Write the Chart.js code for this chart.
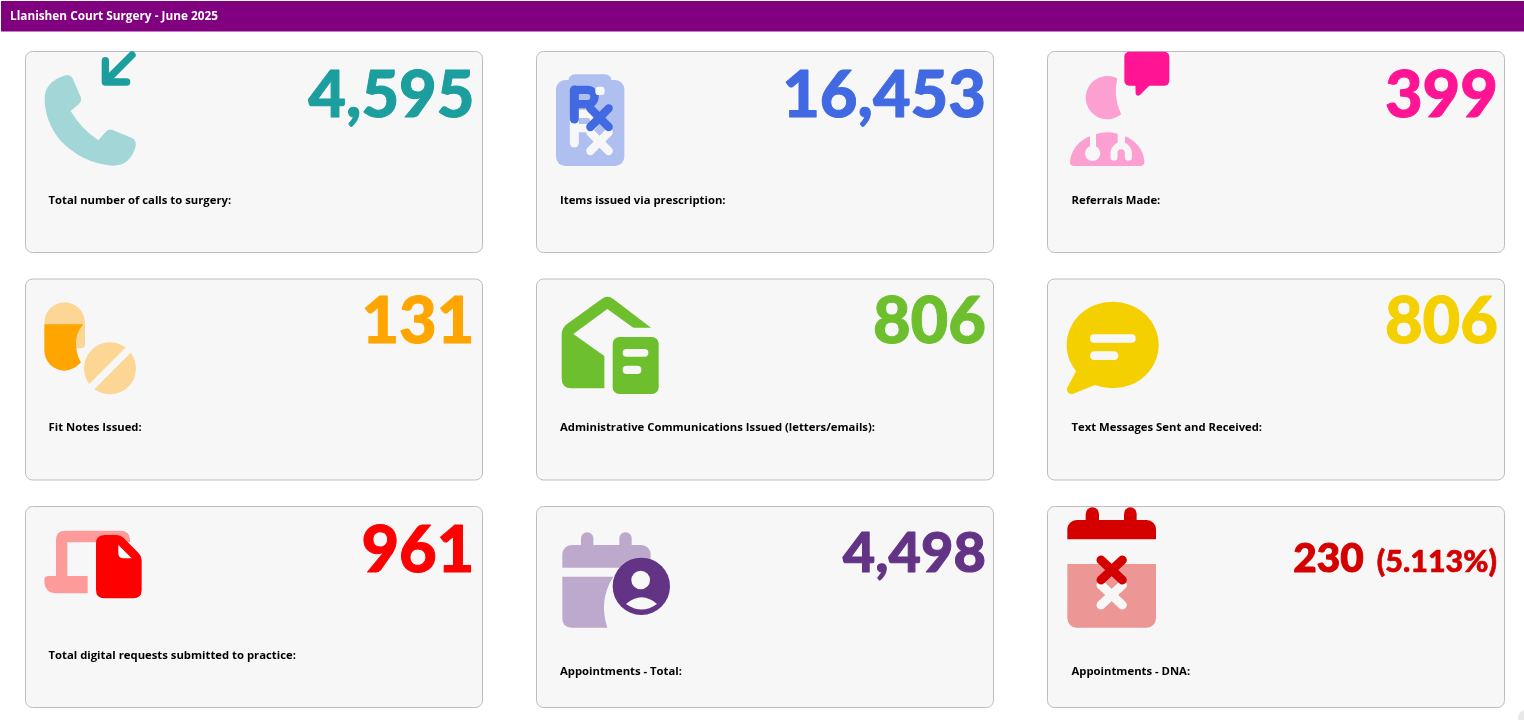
<!DOCTYPE html>
<html><head><meta charset="utf-8">
<script src="https://cdn.jsdelivr.net/npm/chart.js@4"></script>
<style>html,body{margin:0;padding:0;background:#fff;overflow:hidden}canvas{display:block}</style>
</head><body><canvas id="c" width="1524" height="720"></canvas>
<script>
const pageTitle = "Llanishen Court Surgery - June 2025";
const kpiLabels = ["Total number of calls to surgery:","Items issued via prescription:","Referrals Made:","Fit Notes Issued:","Administrative Communications Issued (letters/emails):","Text Messages Sent and Received:","Total digital requests submitted to practice:","Appointments - Total:","Appointments - DNA:"];
const kpiValues = [4595,16453,399,131,806,806,961,4498,230];
const kpiNotes = ["","","","","","","","","(5.113%)"];
const kpiColours = ["#1c9e9e","#4169e1","#ff1493","#ffa500","#6dbf2d","#f5d000","#ff0000","#633386","#d40000"];
const kpiFontSizes = [65,65,65,65,65,65,65,56,40.5];
const cardBg = "#f7f7f7";

function rr(c,x,y,w,h,r){c.beginPath();c.roundRect(x,y,w,h,r);c.fill();}
function line(c,pts,w,col){c.save();c.strokeStyle=col;c.lineWidth=w;c.lineCap="round";c.lineJoin="round";c.beginPath();pts.forEach((p,i)=>i?c.lineTo(p[0],p[1]):c.moveTo(p[0],p[1]));c.stroke();c.restore();}

const icons = [
 function(c){ // phone + arrow
  c.fillStyle="#a3d6d6";c.beginPath();
  c.moveTo(192,227);c.quadraticCurveTo(206,221,216,232);c.lineTo(242,290);c.quadraticCurveTo(246,303,236,313);c.lineTo(212,333);
  c.quadraticCurveTo(245,388,295,421);c.lineTo(315,398);c.quadraticCurveTo(325,385,338,390);c.lineTo(396,414);c.quadraticCurveTo(410,422,407,438);
  c.quadraticCurveTo(392,497,338,497);c.quadraticCurveTo(245,490,180,420);c.quadraticCurveTo(132,360,134,290);c.quadraticCurveTo(138,245,192,227);c.fill();
  line(c,[[316,182],[316,246],[380,246]],22,"#1c9e9e");line(c,[[396,165],[320,241]],22,"#1c9e9e");
 },
 function(c){ // Rx clipboard
  c.fillStyle="#aebff0";rr(c,78,105,205,258,28);rr(c,115,88,130,40,20);
  const rx=(dy,col)=>{line(c,[[133,222+dy],[133,135+dy]],27,col);
   c.save();c.strokeStyle=col;c.lineWidth=25;c.lineJoin="round";c.lineCap="butt";c.beginPath();c.moveTo(133,134.5+dy);c.lineTo(172,134.5+dy);c.arc(172,156+dy,21.5,-Math.PI/2,Math.PI/2);c.lineTo(133,177.5+dy);c.stroke();c.restore();
   line(c,[[181,190+dy],[236,246+dy]],25,col);line(c,[[236,190+dy],[181,246+dy]],25,col);};
  rx(72,cardBg);rx(0,"#4169e1");
  c.fillStyle=cardBg;rr(c,196,125,28,25,10);
 },
 function(c){ // doctor + bubble
  c.fillStyle="#fba0d0";c.beginPath();c.arc(202,158,65,-62.6*Math.PI/180,50.4*Math.PI/180,true);c.quadraticCurveTo(218,155,232,100);c.fill();
  c.beginPath();c.moveTo(90,350);c.bezierCurveTo(95,300,140,265,202,262);c.bezierCurveTo(265,265,310,300,313,350);c.quadraticCurveTo(313,363,300,363);c.lineTo(103,363);c.quadraticCurveTo(90,363,90,350);c.fill();
  line(c,[[159,250],[159,325]],18,cardBg);c.fillStyle=cardBg;c.beginPath();c.arc(158,325,23,0,7);c.fill();
  c.fillRect(233,250,22,55);
  c.save();c.strokeStyle=cardBg;c.lineWidth=21;c.lineCap="round";c.beginPath();c.moveTo(222,337);c.lineTo(222,324);c.arc(243.5,324,21.5,Math.PI,0);c.lineTo(265,337);c.stroke();c.restore();
  c.fillStyle="#ff1493";rr(c,253,20,135,102,15);c.beginPath();c.moveTo(286,115);c.lineTo(287,146);c.quadraticCurveTo(291,156,300,150);c.lineTo(335,115);c.fill();
 },
 function(c){ // pills
  c.fillStyle="#fbd694";c.beginPath();c.moveTo(73,150);c.lineTo(73,143);c.arc(134,143,61,Math.PI,0);c.lineTo(195,208);c.quadraticCurveTo(195,220,182,220);c.lineTo(165,220);c.lineTo(165,150);c.fill();
  c.fillStyle="#ffa500";c.beginPath();c.moveTo(73,148);c.lineTo(190,148);c.quadraticCurveTo(165,175,168,212);c.quadraticCurveTo(171,243,183,262);c.quadraticCurveTo(160,287,134,287);c.arc(134,226,61,Math.PI/2,Math.PI);c.closePath();c.fill();
  c.fillStyle="#fbd694";c.beginPath();c.arc(270,280,78,0,7);c.fill();
  line(c,[[360,190],[180,370]],22,cardBg);
 },
 function(c){ // house + doc
  c.fillStyle="#6dbf2d";c.beginPath();c.moveTo(215,72);c.quadraticCurveTo(232,58,250,72);c.lineTo(363,158);c.lineTo(310,158);c.lineTo(232,102);c.lineTo(130,177);c.lineTo(223,243);c.lineTo(223,340);c.lineTo(125,340);c.quadraticCurveTo(95,340,95,310);c.lineTo(95,180);c.quadraticCurveTo(95,160,110,148);c.closePath();c.fill();
  rr(c,248,186,138,171,20);c.fillStyle=cardBg;rr(c,278,222,77,23,11);rr(c,278,272,56,25,12);
 },
 function(c){ // chat
  c.fillStyle="#f5d000";c.beginPath();c.ellipse(218,210,138,130,0,0,7);c.fill();
  c.beginPath();c.moveTo(110,285);c.lineTo(81,340);c.quadraticCurveTo(80,360,100,356);c.lineTo(170,328);c.fill();
  c.fillStyle=cardBg;rr(c,150,178,137,25,12);rr(c,150,229,85,26,13);
 },
 function(c){ // laptop + doc
  c.fillStyle="#fd9b9b";c.beginPath();c.moveTo(108,228);c.lineTo(108,120);c.quadraticCurveTo(108,92,136,92);c.lineTo(300,92);c.quadraticCurveTo(330,92,330,120);c.lineTo(330,127);c.lineTo(142,127);c.lineTo(142,228);c.lineTo(203,228);c.lineTo(203,280);c.lineTo(110,280);c.quadraticCurveTo(73,280,73,240);c.quadraticCurveTo(73,228,85,228);c.closePath();c.fill();
  c.fillStyle="#ff0000";c.beginPath();c.moveTo(256,105);c.lineTo(290,105);c.quadraticCurveTo(302,105,310,113);c.lineTo(355,158);c.quadraticCurveTo(365,168,365,180);c.lineTo(365,270);c.quadraticCurveTo(365,295,340,295);c.lineTo(253,295);c.quadraticCurveTo(228,295,228,270);c.lineTo(228,130);c.quadraticCurveTo(228,105,256,105);c.fill();
  c.fillStyle="#ffffff";c.beginPath();c.moveTo(295,135);c.lineTo(335,175);c.lineTo(310,175);c.quadraticCurveTo(295,175,295,160);c.fill();
 },
 function(c){ // calendar + person
  c.fillStyle="#bda9cc";rr(c,153,97,37,60,18);rr(c,268,97,37,60,18);
  c.beginPath();c.roundRect(97,135,265,68,[28,28,0,0]);c.fill();
  c.beginPath();c.moveTo(97,230);c.lineTo(250,230);c.quadraticCurveTo(205,300,232,383);c.lineTo(125,383);c.quadraticCurveTo(97,383,97,355);c.fill();
  c.fillStyle="#633386";c.beginPath();c.arc(334,259,86,0,7);c.fill();
  c.fillStyle=cardBg;c.beginPath();c.arc(332,240,28,0,7);c.fill();
  c.beginPath();c.moveTo(288,312);c.quadraticCurveTo(335,272,381,312);c.quadraticCurveTo(335,345,288,312);c.fill();
 },
 function(c){ // calendar + x
  c.fillStyle="#d40000";rr(c,137,22,40,70,20);rr(c,252,22,38,70,19);
  c.beginPath();c.roundRect(82,60,266,58,[28,28,0,0]);c.fill();
  c.fillStyle="#ec9696";c.beginPath();c.roundRect(82,192,266,191,[0,0,28,28]);c.fill();
  const x=(dy,col)=>{line(c,[[183,180+dy],[247,240+dy]],27,col);line(c,[[247,180+dy],[183,240+dy]],27,col);};
  x(75,cardBg);x(0,"#d40000");
 }
];
const iconOrigins=[[0,0],[530,45],[1040,45],[20,275],[530,275],[1040,275],[20,500],[530,500],[1040,500]];
const cardX=[25.5,536.5,1047.5], cardY=[51.5,279,506.5];
const cardW=457, cardH=201;
const valueRight=[474.5,986,1498], valueBase=[116.5,343,571.5];
const labelX=[48.5,560,1071.5];
const labelBase=[203.5,203.5,203.5,431,431,431,659,674.5,674.5];

const dashboardPlugin={id:"dashboard",beforeDraw(chart){
  const c=chart.ctx;c.save();
  c.fillStyle="#fff";c.fillRect(0,0,1524,720);
  c.fillStyle="#800080";c.fillRect(1,1,1523,30.5);
  c.fillStyle="#ffffff";c.font="700 11.8px 'Open Sans'";c.textAlign="left";c.textBaseline="alphabetic";
  c.fillText(pageTitle,10,20);
  const values=chart.data.datasets[0].data;
  chart.data.labels.forEach((lab,i)=>{
    const col=i%3,row=Math.floor(i/3);
    c.fillStyle=cardBg;c.strokeStyle="#bdbdbd";c.lineWidth=1;
    c.beginPath();c.roundRect(cardX[col],cardY[row],cardW,cardH,7);c.fill();c.stroke();
    c.save();c.translate(iconOrigins[i][0],iconOrigins[i][1]);c.scale(1/3,1/3);icons[i](c);c.restore();
    c.fillStyle="#000";c.font="700 11.3px 'Open Sans'";c.textAlign="left";
    c.fillText(lab,labelX[col],labelBase[i]);
    c.fillStyle=kpiColours[i];c.strokeStyle=kpiColours[i];c.lineJoin="round";c.textAlign="right";
    let right=valueRight[col];
    if(kpiNotes[i]){c.font="900 30.5px Lato";c.lineWidth=0.6;c.fillText(kpiNotes[i],right-1,571.5);c.strokeText(kpiNotes[i],right-1,571.5);right-=c.measureText(kpiNotes[i]).width+14;}
    c.font="900 "+kpiFontSizes[i]+"px Lato";c.lineWidth=1;
    const txt=values[i].toLocaleString("en-GB");
    c.fillText(txt,right,valueBase[row]);c.strokeText(txt,right,valueBase[row]);
  });
  c.fillStyle="#e8e8e8";c.beginPath();c.arc(1526,718,8,0,7);c.fill();
  c.restore();
}};

new Chart(document.getElementById("c"),{
  type:"bar",
  data:{labels:kpiLabels,datasets:[{label:"June 2025",data:kpiValues,backgroundColor:"rgba(0,0,0,0)",borderWidth:0}]},
  options:{responsive:false,animation:false,devicePixelRatio:1,layout:{padding:0},
    plugins:{legend:{display:false},tooltip:{enabled:false},title:{display:false}},
    scales:{x:{display:false},y:{display:false}}},
  plugins:[dashboardPlugin]
});
</script></body></html>
